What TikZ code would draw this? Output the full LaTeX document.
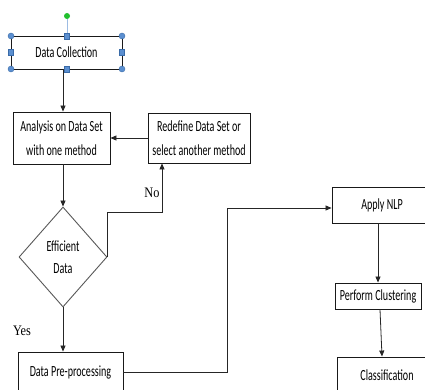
\documentclass[tikz,border=0pt]{standalone}
\usepackage{fontspec}
\setmainfont{Carlito}
\newfontfamily\boxfont[FakeStretch=0.65]{Carlito}
\newfontfamily\ynfont[FakeStretch=0.85]{Liberation Serif}
\usetikzlibrary{shapes.geometric,arrows.meta}
\definecolor{handleblue}{HTML}{5B8FD0}
\definecolor{handleedge}{HTML}{3A6BA8}
\definecolor{rotgreen}{HTML}{22C02E}
\begin{document}
\begin{tikzpicture}[x=1pt,y=-1pt,
  box/.style={draw=black!90,line width=0.9pt,rectangle,inner sep=0pt,align=center,
    font=\boxfont\fontsize{15.5}{24}\selectfont},
  decision/.style={draw=black!65,line width=0.9pt,diamond,inner sep=0pt,align=center,
    minimum width=88pt,minimum height=100pt,font=\boxfont\fontsize{15.5}{22}\selectfont},
  arr/.style={draw=black!85,line width=0.8pt,-{Triangle[length=6pt,width=5pt]}},
  yn/.style={inner sep=0pt,font=\ynfont\fontsize{14.5}{14.5}\selectfont},
  hcirc/.style={circle,fill=handleblue,draw=handleedge,line width=0.4pt,minimum size=6pt,inner sep=0pt},
  hsq/.style={rectangle,fill=handleblue,draw=handleedge,line width=0.4pt,minimum width=5pt,minimum height=6pt,inner sep=0pt}
]
\useasboundingbox (0,0) rectangle (425,390);
\clip (0,0) rectangle (425,390);
\fill[white] (0,0) rectangle (425,390);

% nodes
\node[box,minimum width=111pt,minimum height=33pt] (dc) at (66.5,52.5) {Data Collection};
\node[box,minimum width=97pt,minimum height=52pt] (ana) at (61.5,138) {Analysis on Data Set\\with one method};
\node[box,minimum width=102pt,minimum height=50pt] (red) at (199,138) {Redefine Data Set or\\select another method};
\node[decision] (dia) at (63,257) {Efficient\\Data};
\node[box,minimum width=105pt,minimum height=40pt] (pre) at (70.5,372) {Data Pre-processing};
\node[box,minimum width=100pt,minimum height=36pt] (nlp) at (382,205) {Apply NLP};
\node[box,minimum width=86pt,minimum height=26pt] (clu) at (378,296) {Perform Clustering};
\node[box,minimum width=100pt,minimum height=36pt] (cla) at (387,375) {Classification};

\node[yn] (no) at (152,193) {No};
\node[yn] (yes) at (22,331) {Yes};

% selection handles on Data Collection
\node[circle,fill=rotgreen,minimum size=6pt,inner sep=0pt] (rot) at (67,16) {};
\draw[draw=handleblue!60,line width=0.8pt] (rot.south) -- (67,33);
\node[hcirc] (h1) at (11,36) {};
\node[hcirc] (h2) at (122,36) {};
\node[hcirc] (h3) at (11,69) {};
\node[hcirc] (h4) at (122,69) {};
\node[hsq] (h5) at (67,36) {};
\node[hsq] (h6) at (67,69) {};
\node[hsq] (h7) at (11,52.5) {};
\node[hsq] (h8) at (122,52.5) {};

% connectors
\draw[arr] ([xshift=-3.5pt]dc.south) -- ([xshift=1.5pt]ana.north);
\draw[arr] ([xshift=1.5pt]ana.south) -- (dia.north);
\draw[arr] (red.west) -- (ana.east);
\draw[arr] (dia.east) -- ++(0,-45) -| ([xshift=-37pt]red.south);
\draw[arr] (dia.south) -- ([xshift=-7.5pt]pre.north);
\coordinate (bend) at (227,208);
\draw[arr] (pre.east) -| (bend) -- ([yshift=-3pt]nlp.west);
\draw[arr] ([xshift=-4pt]nlp.south) -- (clu.north);
\draw[arr] ([xshift=2pt]clu.south) -- ([xshift=-5pt]cla.north);
\end{tikzpicture}
\end{document}
